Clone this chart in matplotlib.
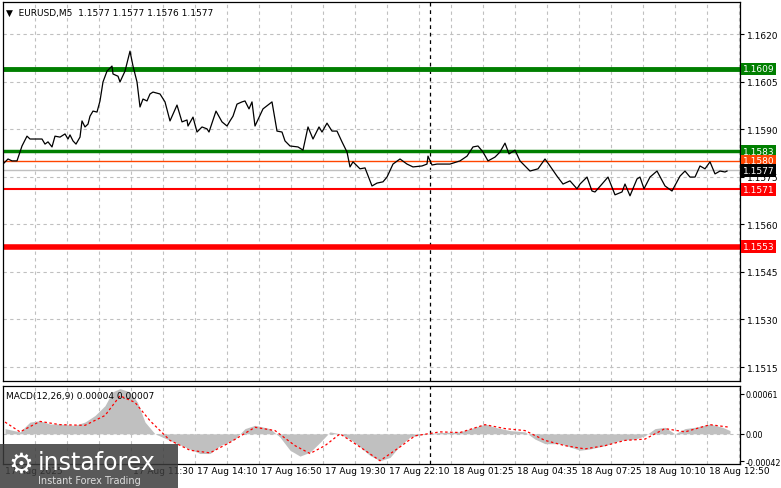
import matplotlib.pyplot as plt
from matplotlib.patches import Rectangle
import numpy as np

W, H = 781, 489

# price line (bar index, close)
price_bars = [0, 2.5, 4.5, 7, 9.5, 12, 13.5, 16, 19.5, 21, 22.5, 24.5, 26, 28.5, 31, 32.5, 33.5, 35, 36.5, 38.5,
	39.5, 41, 42.5, 43.5, 45, 47, 48.5, 50, 52, 54.5, 55, 57.5, 58.5, 61, 63.5, 65, 67, 68.5, 70, 72,
	73.5, 75, 78.5, 81, 83.5, 87, 89.5, 92, 92.5, 95, 97, 99.5, 102, 103, 106.5, 109.5, 112, 113.5, 115, 117,
	119.5, 121, 123, 124.5, 126, 130, 134.5, 137, 139.5, 141, 143.5, 147.5, 150, 152.5, 155, 158, 159.5, 162, 164.5, 167,
	169.5, 172, 173.5, 175, 178.5, 181, 184.5, 187, 190, 192, 195, 198.5, 202, 205, 209.5, 212, 212.5, 214.5, 217, 220,
	223.5, 228.5, 232, 235, 237.5, 240, 242.5, 246, 248.5, 251, 253, 256, 258.5, 263.5, 267.5, 271, 273.5, 277, 280, 283.5,
	287, 288.5, 292, 294.5, 296, 299.5, 302.5, 306, 309.5, 311, 313.5, 317, 318.5, 320.5, 323.5, 327, 331, 334.5, 338.5, 341,
	343.5, 346, 348.5, 351, 353.5, 356, 358.5, 361, 362]
price_vals = [1.15790, 1.15806, 1.15800, 1.15800, 1.15847, 1.15878, 1.15869, 1.15869, 1.15869, 1.15853, 1.15860, 1.15844, 1.15878, 1.15875, 1.15885, 1.15869, 1.15882, 1.15863, 1.15853, 1.15875,
	1.15926, 1.15907, 1.15916, 1.15941, 1.15957, 1.15954, 1.15989, 1.16049, 1.16083, 1.16099, 1.16074, 1.16067, 1.16049, 1.16083, 1.16146, 1.16099, 1.16049, 1.15970, 1.15995, 1.15989,
	1.16011, 1.16017, 1.16011, 1.15986, 1.15926, 1.15976, 1.15923, 1.15929, 1.15910, 1.15938, 1.15891, 1.15907, 1.15901, 1.15891, 1.15957, 1.15923, 1.15910, 1.15926, 1.15941, 1.15979,
	1.15986, 1.15989, 1.15964, 1.15986, 1.15910, 1.15964, 1.15986, 1.15894, 1.15891, 1.15863, 1.15847, 1.15844, 1.15834, 1.15907, 1.15869, 1.15907, 1.15891, 1.15919, 1.15894, 1.15894,
	1.15860, 1.15828, 1.15781, 1.15797, 1.15775, 1.15778, 1.15721, 1.15730, 1.15734, 1.15749, 1.15790, 1.15806, 1.15790, 1.15781, 1.15784, 1.15790, 1.15815, 1.15787, 1.15790, 1.15790,
	1.15790, 1.15800, 1.15815, 1.15844, 1.15847, 1.15828, 1.15800, 1.15812, 1.15828, 1.15856, 1.15822, 1.15834, 1.15800, 1.15768, 1.15775, 1.15806, 1.15784, 1.15752, 1.15727, 1.15737,
	1.15712, 1.15727, 1.15749, 1.15705, 1.15702, 1.15727, 1.15749, 1.15693, 1.15702, 1.15727, 1.15690, 1.15743, 1.15749, 1.15712, 1.15749, 1.15768, 1.15721, 1.15705, 1.15752, 1.15768,
	1.15749, 1.15749, 1.15784, 1.15775, 1.15797, 1.15759, 1.15768, 1.15765, 1.15768]

hist_bars = [1, 8.5, 13.5, 18.5, 23.5, 28.5, 36, 41, 46, 51, 54.75, 58.5, 63.5, 67.25, 71, 76, 83.5, 91, 98.5, 103.5,
	108.5, 116, 121, 126, 133.5, 138.5, 143.5, 148.5, 153.5, 158.5, 163.5, 168.5, 173.5, 178.5, 183.5, 188.5, 193.5, 198.5, 203.5, 211,
	218.5, 228.5, 236, 241, 246, 253.5, 261, 266, 271, 278.5, 283.5, 288.5, 293.5, 301, 308.5, 316, 321, 326, 331, 336,
	341, 346, 353.5, 359.75, 363.5]
hist_vals = [0.00008, 0.00003, 0.00018, 0.0002, 0.00015, 0.00015, 0.00013, 0.00018, 0.00028, 0.00043, 0.00064, 0.00069, 0.00064, 0.00048, 0.00018, 0.0, -0.0001, -0.0002, -0.0003, -0.0003,
	-0.00018, -0.00008, 0.00008, 0.00013, 0.00008, -0.00005, -0.00025, -0.00034, -0.00028, -0.00013, 0.00003, 0.0, -0.00008, -0.0002, -0.00033, -0.00041, -0.00036, -0.00018, -0.00005, 0.0,
	0.00002, 0.00003, 0.0001, 0.00015, 0.0001, 0.00005, 0.00003, -0.00008, -0.00015, -0.00015, -0.0002, -0.00025, -0.00023, -0.00018, -0.0001, -0.00008, -0.00003, 0.00008, 0.0001, 0.0,
	0.00008, 0.0001, 0.00015, 0.0001, 0.00005]

sig_bars = [1, 8.5, 18.5, 28.5, 41, 51, 58.5, 66, 73.5, 83.5, 93.5, 103.5, 113.5, 126, 136, 146, 153.5, 161, 168.5, 178.5,
	188.5, 198.5, 206, 218.5, 228.5, 241, 251, 261, 271, 281, 291, 301, 311, 321, 331, 341, 353.5, 363.5]
sig_vals = [0.00018, 0.00003, 0.00019, 0.00014, 0.00013, 0.00028, 0.00058, 0.00048, 0.0002, -0.0001, -0.00025, -0.00029, -0.00013, 0.0001, 0.00005, -0.00018, -0.0003, -0.00018, 0.0, -0.0002,
	-0.00041, -0.0002, -0.00003, 0.00003, 0.00002, 0.00014, 0.00008, 0.00005, -0.0001, -0.00018, -0.00023, -0.00018, -0.0001, -0.00008, 0.00008, 0.00003, 0.00014, 0.0001]

price_ticks = [1.1620, 1.1605, 1.1590, 1.1575, 1.1560, 1.1545, 1.1530, 1.1515]
time_label_bars = [0, 64, 96, 128, 160, 192, 224, 256, 288, 320, 352]
time_labels = ["17 Aug 2025", "17 Aug 11:30", "17 Aug 14:10", "17 Aug 16:50", "17 Aug 19:30", "17 Aug 22:10",
	"18 Aug 01:25", "18 Aug 04:35", "18 Aug 07:25", "18 Aug 10:10", "18 Aug 12:50"]

# level, colour, width
levels = [
	(1.1609, "#007f00", 3.5),
	(1.1583, "#007f00", 2.5),
	(1.1580, "#ff4500", 1.0),
	(1.1577, "#c0c0c0", 1.0),
	(1.1571, "#ff0000", 1.5),
	(1.1553, "#ff0000", 4.0),
]
label_bg = {1.1609: "#007f00", 1.1583: "#007f00", 1.1580: "#ff4500", 1.1577: "#000000",
	1.1571: "#ff0000", 1.1553: "#ff0000"}

fs = 6.5
fig = plt.figure(figsize=(W / 100, H / 100), dpi=100)
ax = fig.add_axes([3 / W, (H - 382) / H, 737 / W, 379 / H])
ax2 = fig.add_axes([3 / W, (H - 465) / H, 737 / W, 78 / H])

xmax = 368.5
grid_x = np.arange(16, xmax, 16)
for a in (ax, ax2):
	a.set_xlim(0, xmax)
	for gx in grid_x:
		a.axvline(gx, color="#c0c0c0", ls=(0, (3, 3)), lw=0.8, zorder=0)
	a.axvline(213.5, color="black", ls=(0, (3, 3)), lw=0.9, zorder=1)
	a.set_xticks([])
	a.yaxis.tick_right()
	a.tick_params(axis="y", length=3, labelsize=fs, pad=2)
	for s in a.spines.values():
		s.set_linewidth(0.9)

ax.set_ylim(1.15106, 1.16301)
ax.set_yticks(price_ticks)
ax.set_yticklabels([f"{t:.4f}" for t in price_ticks])
for t in price_ticks:
	ax.axhline(t, color="#c0c0c0", ls=(0, (3, 3)), lw=0.8, zorder=0)
for lv, c, lw in levels:
	ax.axhline(lv, color=c, lw=lw, zorder=2)
	ax.text(1.004, lv, f"{lv:.4f}", transform=ax.get_yaxis_transform(), fontsize=fs,
		color="white", va="center", ha="left",
		bbox=dict(boxstyle="square,pad=0.2", fc=label_bg[lv], ec="none"), zorder=5, clip_on=False)
ax.plot(price_bars, price_vals, color="black", lw=0.9, zorder=3)
ax.text(0.004, 0.985, "\u25bc  EURUSD,M5  1.1577 1.1577 1.1576 1.1577", transform=ax.transAxes,
	fontsize=fs, va="top", ha="left")

ax2.set_ylim(-0.00046, 0.00073)
ax2.set_yticks([0.00061, 0.0, -0.00042])
ax2.set_yticklabels(["0.00061", "0.00", "-0.00042"])
ax2.tick_params(axis="y", labelsize=5.8, pad=1)
ax2.axhline(0, color="#c0c0c0", ls=(0, (3, 3)), lw=0.8, zorder=0)
ax2.fill_between(hist_bars, hist_vals, 0, color="#c0c0c0", lw=0, zorder=2)
ax2.plot(sig_bars, sig_vals, color="red", ls=(0, (2, 2)), lw=0.9, zorder=3)
ax2.text(0.004, 0.93, "MACD(12,26,9) 0.00004 0.00007", transform=ax2.transAxes,
	fontsize=fs, va="top", ha="left")

for b, lab in zip(time_label_bars, time_labels):
	ax2.text(b + 1, -0.03, lab, transform=ax2.get_xaxis_transform(), fontsize=fs,
		va="top", ha="left")

# instaforex watermark
fig.patches.append(Rectangle((0, 0), 178 / W, 44 / H, transform=fig.transFigure,
	fc="#3c3c3c", alpha=0.85, ec="none", zorder=10))
fig.text(38 / W, 26 / H, "instaforex", color="white", fontsize=17, va="center", ha="left", zorder=11)
fig.text(38 / W, 8 / H, "Instant Forex Trading", color="#dddddd", fontsize=7, va="center", ha="left", zorder=11)
fig.text(8 / W, 24 / H, "\u2699", color="white", fontsize=20, va="center", ha="left", zorder=11)

fig.savefig("out.png", dpi=100)
